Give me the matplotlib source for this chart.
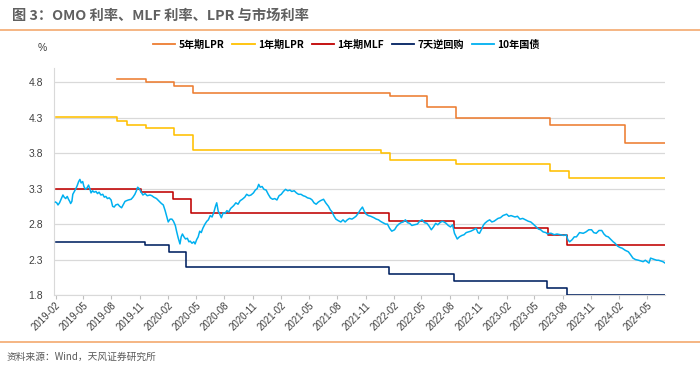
import pandas as pd
import matplotlib
matplotlib.use("Agg")
import matplotlib.pyplot as plt
import matplotlib.dates as mdates
from matplotlib.lines import Line2D

plt.rcParams['font.family'] = ['Noto Sans CJK SC', 'DejaVu Sans']

# 政策利率（调整日期, 调整后利率）
lpr5_dates = ["2019-08-20", "2019-11-20", "2020-02-20", "2020-04-20", "2022-01-20",
              "2022-05-20", "2022-08-22", "2023-06-20", "2024-02-20"]
lpr5_vals = [4.85, 4.80, 4.75, 4.65, 4.60, 4.45, 4.30, 4.20, 3.95]

lpr1_dates = ["2019-02-01", "2019-08-20", "2019-09-20", "2019-11-20", "2020-02-20",
              "2020-04-20", "2021-12-20", "2022-01-20", "2022-08-22", "2023-06-20",
              "2023-08-21"]
lpr1_vals = [4.31, 4.25, 4.20, 4.15, 4.05, 3.85, 3.80, 3.70, 3.65, 3.55, 3.45]

mlf_dates = ["2019-02-01", "2019-11-05", "2020-02-17", "2020-04-15", "2022-01-17",
             "2022-08-15", "2023-06-15", "2023-08-15"]
mlf_vals = [3.30, 3.25, 3.15, 2.95, 2.85, 2.75, 2.65, 2.50]

omo_dates = ["2019-02-01", "2019-11-18", "2020-02-03", "2020-03-30", "2022-01-17",
             "2022-08-15", "2023-06-13", "2023-08-15"]
omo_vals = [2.55, 2.50, 2.40, 2.20, 2.10, 2.00, 1.90, 1.80]

# 10年国债收益率
cgb_dates = [
    "2019-02-01", "2019-02-05", "2019-02-09", "2019-02-14", "2019-02-19", "2019-02-25",
    "2019-03-01", "2019-03-06", "2019-03-11", "2019-03-15", "2019-03-19", "2019-03-22",
    "2019-03-26", "2019-03-29", "2019-04-03", "2019-04-08", "2019-04-12", "2019-04-17",
    "2019-04-21", "2019-04-25", "2019-04-30", "2019-05-04", "2019-05-09", "2019-05-14",
    "2019-05-19", "2019-05-23", "2019-05-27", "2019-06-01", "2019-06-06", "2019-06-12",
    "2019-06-17", "2019-06-22", "2019-06-28", "2019-07-04", "2019-07-09", "2019-07-14",
    "2019-07-19", "2019-07-25", "2019-07-31", "2019-08-05", "2019-08-10", "2019-08-15",
    "2019-08-22", "2019-08-28", "2019-09-03", "2019-09-09", "2019-09-14", "2019-09-19",
    "2019-09-25", "2019-10-04", "2019-10-10", "2019-10-16", "2019-10-21", "2019-10-25",
    "2019-10-30", "2019-11-04", "2019-11-11", "2019-11-18", "2019-11-25", "2019-12-04",
    "2019-12-10", "2019-12-16", "2019-12-25", "2020-01-03", "2020-01-10", "2020-01-16",
    "2020-01-22", "2020-02-01", "2020-02-07", "2020-02-13", "2020-02-18", "2020-02-24",
    "2020-02-28", "2020-03-04", "2020-03-10", "2020-03-14", "2020-03-18", "2020-03-23",
    "2020-03-28", "2020-04-03", "2020-04-08", "2020-04-12", "2020-04-18", "2020-04-24",
    "2020-04-28", "2020-05-03", "2020-05-08", "2020-05-13", "2020-05-18", "2020-05-23",
    "2020-05-30", "2020-06-05", "2020-06-10", "2020-06-16", "2020-06-22", "2020-06-28",
    "2020-07-03", "2020-07-07", "2020-07-12", "2020-07-17", "2020-07-22", "2020-07-28",
    "2020-08-03", "2020-08-09", "2020-08-15", "2020-08-21", "2020-08-31", "2020-09-07",
    "2020-09-14", "2020-09-21", "2020-09-28", "2020-10-06", "2020-10-12", "2020-10-19",
    "2020-10-26", "2020-11-03", "2020-11-09", "2020-11-15", "2020-11-20", "2020-11-25",
    "2020-12-01", "2020-12-07", "2020-12-14", "2020-12-21", "2020-12-28", "2021-01-04",
    "2021-01-11", "2021-01-18", "2021-01-25", "2021-02-01", "2021-02-08", "2021-02-15",
    "2021-02-22", "2021-03-01", "2021-03-07", "2021-03-15", "2021-03-22", "2021-03-29",
    "2021-04-06", "2021-04-13", "2021-04-20", "2021-04-27", "2021-05-06", "2021-05-12",
    "2021-05-18", "2021-05-25", "2021-06-01", "2021-06-08", "2021-06-18", "2021-06-25",
    "2021-07-04", "2021-07-10", "2021-07-16", "2021-07-21", "2021-07-28", "2021-08-04",
    "2021-08-13", "2021-08-20", "2021-08-27", "2021-09-03", "2021-09-10", "2021-09-18",
    "2021-09-25", "2021-10-01", "2021-10-08", "2021-10-15", "2021-10-22", "2021-10-28",
    "2021-11-03", "2021-11-10", "2021-11-18", "2021-11-28", "2021-12-06", "2021-12-13",
    "2021-12-19", "2021-12-27", "2022-01-05", "2022-01-11", "2022-01-18", "2022-01-25",
    "2022-02-03", "2022-02-10", "2022-02-17", "2022-02-24", "2022-03-03", "2022-03-10",
    "2022-03-17", "2022-03-24", "2022-03-31", "2022-04-08", "2022-04-18", "2022-04-25",
    "2022-05-03", "2022-05-11", "2022-05-19", "2022-05-26", "2022-06-02", "2022-06-09",
    "2022-06-16", "2022-06-23", "2022-06-30", "2022-07-07", "2022-07-13", "2022-07-20",
    "2022-07-27", "2022-08-03", "2022-08-10", "2022-08-16", "2022-08-25", "2022-09-01",
    "2022-09-09", "2022-09-16", "2022-09-23", "2022-09-30", "2022-10-08", "2022-10-17",
    "2022-10-25", "2022-10-31", "2022-11-05", "2022-11-12", "2022-11-17", "2022-11-22",
    "2022-11-30", "2022-12-08", "2022-12-15", "2022-12-22", "2023-01-04", "2023-01-12",
    "2023-01-20", "2023-02-01", "2023-02-08", "2023-02-15", "2023-02-22", "2023-02-28",
    "2023-03-08", "2023-03-16", "2023-03-25", "2023-04-03", "2023-04-12", "2023-04-20",
    "2023-04-28", "2023-05-08", "2023-05-15", "2023-05-22", "2023-05-30", "2023-06-08",
    "2023-06-14", "2023-06-19", "2023-06-25", "2023-07-05", "2023-07-14", "2023-07-25",
    "2023-08-05", "2023-08-13", "2023-08-18", "2023-08-24", "2023-09-01", "2023-09-08",
    "2023-09-15", "2023-09-25", "2023-10-07", "2023-10-16", "2023-10-25", "2023-11-03",
    "2023-11-10", "2023-11-18", "2023-11-27", "2023-12-06", "2023-12-13", "2023-12-20",
    "2023-12-27", "2024-01-05", "2024-01-12", "2024-01-18", "2024-01-26", "2024-02-03",
    "2024-02-10", "2024-02-20", "2024-03-01", "2024-03-08", "2024-03-16", "2024-03-24",
    "2024-04-03", "2024-04-10", "2024-04-18", "2024-04-25", "2024-05-01", "2024-05-07",
    "2024-05-12", "2024-05-18", "2024-05-25", "2024-06-01", "2024-06-07", "2024-06-14",
    "2024-06-21", "2024-06-28",
]
cgb_vals = [
    3.11, 3.10, 3.07, 3.10, 3.15, 3.21,
    3.18, 3.16, 3.19, 3.15, 3.12, 3.09,
    3.12, 3.22, 3.26, 3.30, 3.34, 3.40,
    3.43, 3.38, 3.40, 3.33, 3.29, 3.31,
    3.35, 3.30, 3.24, 3.27, 3.25, 3.26,
    3.23, 3.25, 3.21, 3.22, 3.18, 3.19,
    3.16, 3.17, 3.14, 3.05, 3.04, 3.07,
    3.08, 3.05, 3.03, 3.08, 3.12, 3.13,
    3.14, 3.15, 3.18, 3.22, 3.27, 3.32,
    3.30, 3.26, 3.21, 3.23, 3.20, 3.21,
    3.20, 3.18, 3.16, 3.12, 3.09, 3.07,
    2.99, 2.83, 2.87, 2.87, 2.84, 2.78,
    2.70, 2.61, 2.52, 2.62, 2.66, 2.62,
    2.59, 2.60, 2.55, 2.56, 2.53, 2.55,
    2.52, 2.58, 2.62, 2.70, 2.68, 2.74,
    2.80, 2.84, 2.86, 2.92, 2.90, 2.97,
    3.05, 3.10, 2.98, 2.94, 2.89, 2.96,
    2.95, 2.99, 2.97, 3.02, 3.06, 3.10,
    3.08, 3.13, 3.15, 3.18, 3.22, 3.20,
    3.21, 3.24, 3.28, 3.30, 3.36, 3.32,
    3.33, 3.29, 3.28, 3.22, 3.17, 3.15,
    3.16, 3.14, 3.20, 3.22, 3.26, 3.29,
    3.27, 3.28, 3.26, 3.27, 3.24, 3.22,
    3.22, 3.20, 3.19, 3.17, 3.16, 3.14,
    3.10, 3.08, 3.11, 3.13, 3.15, 3.10,
    3.05, 3.00, 2.97, 2.92, 2.87, 2.85,
    2.83, 2.86, 2.83, 2.86, 2.88, 2.87,
    2.89, 2.91, 2.95, 3.00, 3.04, 2.98,
    2.94, 2.92, 2.91, 2.89, 2.87, 2.86,
    2.84, 2.82, 2.80, 2.80, 2.74, 2.70,
    2.72, 2.77, 2.80, 2.82, 2.83, 2.86,
    2.82, 2.81, 2.78, 2.79, 2.80, 2.84,
    2.86, 2.82, 2.81, 2.77, 2.72, 2.76,
    2.81, 2.79, 2.82, 2.84, 2.83, 2.81,
    2.78, 2.76, 2.79, 2.67, 2.59, 2.62,
    2.64, 2.65, 2.68, 2.69, 2.70, 2.72,
    2.74, 2.68, 2.67, 2.73, 2.78, 2.81,
    2.84, 2.86, 2.83, 2.84, 2.88, 2.89,
    2.92, 2.94, 2.91, 2.92, 2.91, 2.90,
    2.91, 2.87, 2.88, 2.86, 2.84, 2.83,
    2.80, 2.76, 2.73, 2.72, 2.69, 2.68,
    2.66, 2.67, 2.67, 2.65, 2.66, 2.65,
    2.64, 2.65, 2.58, 2.55, 2.58, 2.62,
    2.62, 2.68, 2.67, 2.69, 2.72, 2.72,
    2.68, 2.67, 2.71, 2.71, 2.66, 2.63,
    2.62, 2.58, 2.55, 2.53, 2.49, 2.47,
    2.46, 2.43, 2.41, 2.37, 2.32, 2.30,
    2.29, 2.28, 2.27, 2.29, 2.27, 2.25,
    2.32, 2.31, 2.30, 2.29, 2.29, 2.28,
    2.27, 2.25,
]

end_date = "2024-06-28"
y_ticks = [1.8, 2.3, 2.8, 3.3, 3.8, 4.3, 4.8]

colors = {"lpr5": "#ED7D31", "lpr1": "#FFC000", "mlf": "#C00000",
          "omo": "#002060", "cgb": "#00B0F0"}


def step_series(dates, vals):
    # 阶梯线延伸到最后一天
    d = pd.to_datetime(dates + [end_date])
    v = vals + [vals[-1]]
    return d, v


fig = plt.figure(figsize=(7, 3.72), dpi=100)
ax = fig.add_axes([0.0771, 0.207, 0.873, 0.61])

lw = 1.15
for key, dts, vs in [("lpr5", lpr5_dates, lpr5_vals), ("lpr1", lpr1_dates, lpr1_vals),
                     ("mlf", mlf_dates, mlf_vals), ("omo", omo_dates, omo_vals)]:
    d, v = step_series(dts, vs)
    ax.plot(d, v, drawstyle="steps-post", color=colors[key], lw=lw, zorder=3)
ax.plot(pd.to_datetime(cgb_dates), cgb_vals, color=colors["cgb"], lw=1.1, zorder=4)

ax.set_ylim(1.8, 5.0)
ax.set_xlim(pd.Timestamp("2019-01-27"), pd.Timestamp(end_date))
ax.set_yticks(y_ticks)
ax.set_yticklabels([f"{t:.1f}" for t in y_ticks], fontsize=7.5, color="#404040",
                   family=["Liberation Sans", "DejaVu Sans"])
ax.yaxis.grid(True, color="#D9D9D9", lw=0.9)
ax.set_axisbelow(True)
ax.tick_params(axis="y", length=0, pad=8)

ax.xaxis.set_major_locator(mdates.MonthLocator(bymonth=[2, 5, 8, 11]))
ax.xaxis.set_major_formatter(mdates.DateFormatter("%Y-%m"))
ax.tick_params(axis="x", length=3, color="#BFBFBF", labelsize=7, labelcolor="#404040", pad=1)
for lab in ax.get_xticklabels():
    lab.set_rotation(45)
    lab.set_ha("right")
    lab.set_rotation_mode("anchor")
    lab.set_family(["Liberation Sans", "DejaVu Sans"])

for s in ["top", "right"]:
    ax.spines[s].set_visible(False)
ax.spines["left"].set_color("#D9D9D9")
ax.spines["bottom"].set_color("#D9D9D9")

# 标题、分隔线、来源
fig.text(0.017, 0.958, "图 3：OMO 利率、MLF 利率、LPR 与市场利率", fontsize=10.3,
         color="#606060", fontweight="bold", va="center")
fig.add_artist(Line2D([0, 1], [1 - 29.5 / 372] * 2, color="#F5B07A", lw=1.3))
fig.add_artist(Line2D([0, 1], [1 - 341.5 / 372] * 2, color="#F5B07A", lw=1.3))
fig.text(0.01, 1 - 357 / 372, "资料来源：Wind，天风证券研究所", fontsize=7,
         color="#595959", va="center")
fig.text(38 / 700, 1 - 48 / 372, "%", fontsize=7.5, color="#404040", va="center",
         family=["Liberation Sans", "DejaVu Sans"])

# 图例
names = ["5年期LPR", "1年期LPR", "1年期MLF", "7天逆回购", "10年国债"]
handles = [Line2D([], [], color=colors[k], lw=1.3) for k in ["lpr5", "lpr1", "mlf", "omo", "cgb"]]
fig.legend(handles, names, loc="center left", bbox_to_anchor=(153 / 700, 1 - 45 / 372),
           ncol=5, frameon=False, prop={"size": 7.3, "weight": "bold"},
           handlelength=2.2, handletextpad=0.3, columnspacing=0.8, borderaxespad=0,
           borderpad=0)

fig.savefig("out.png", dpi=100)
